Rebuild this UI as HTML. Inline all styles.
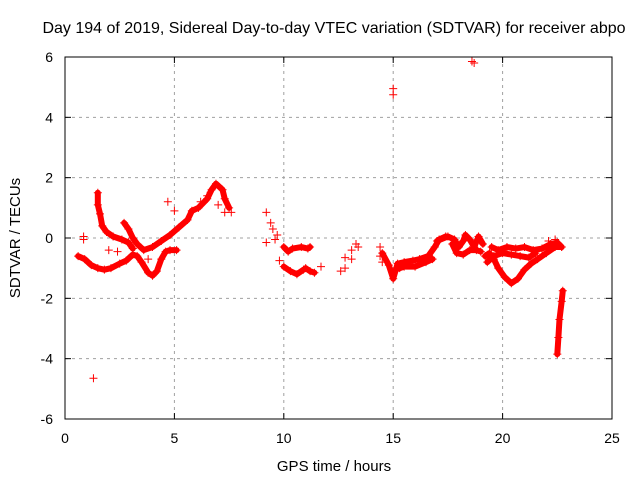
<!DOCTYPE html>
<html><head><meta charset="utf-8"><style>
body{margin:0;background:#fff;}
svg{display:block;font-family:"Liberation Sans",sans-serif;}
</style></head><body>
<svg id="chart" width="640" height="480">
<text x="334" y="33" font-size="16" text-anchor="middle">Day 194 of 2019, Sidereal Day-to-day VTEC variation (SDTVAR) for receiver abpo</text>
<text x="334" y="471" font-size="15" text-anchor="middle">GPS time / hours</text>
<text x="20" y="238" font-size="15" text-anchor="middle" transform="rotate(-90 20 238)">SDTVAR / TECUs</text>
<g id="grid"></g><g id="axes"></g><g id="marks"></g>
</svg>
<script>
const xTicks=[0,5,10,15,20,25];
const yTicks=[-6,-4,-2,0,2,4,6];
const tracks=[
[[0.6,-0.6],[0.9,-0.7],[1.2,-0.9],[1.5,-1.0],[1.8,-1.05],[2.1,-1.0],[2.5,-0.85],[2.8,-0.75],[3.1,-0.55],[3.3,-0.6],[3.5,-0.8],[3.8,-1.15],[4.0,-1.25],[4.2,-1.1],[4.4,-0.7],[4.6,-0.45],[4.8,-0.4],[5.1,-0.4]],
[[1.5,1.5],[1.5,1.1],[1.6,0.8],[1.7,0.4],[1.9,0.2],[2.2,0.05],[2.6,-0.05],[2.9,-0.15],[3.1,-0.35]],
[[2.7,0.5],[2.9,0.3],[3.1,0.0],[3.3,-0.2],[3.6,-0.4],[4.0,-0.3],[4.4,-0.1],[4.8,0.1],[5.2,0.35],[5.6,0.6],[5.8,0.9]],
[[5.8,0.9],[6.1,1.0],[6.5,1.3],[6.7,1.6],[6.9,1.8],[7.2,1.6],[7.3,1.3],[7.5,1.0]],
[[10.0,-0.3],[10.2,-0.45],[10.4,-0.35],[10.8,-0.3],[11.1,-0.35],[11.2,-0.3]],
[[10.0,-0.95],[10.3,-1.1],[10.6,-1.2],[10.9,-1.05]],
[[11.0,-1.0],[11.2,-1.1],[11.4,-1.15]],
[[14.5,-0.5],[14.8,-0.9],[15.0,-1.35],[15.1,-1.1],[15.2,-0.85],[15.5,-0.8],[15.9,-0.75],[16.2,-0.7],[16.6,-0.6],[16.9,-0.3],[17.1,-0.05],[17.4,0.05]],
[[15.3,-1.0],[15.5,-0.95],[16.0,-0.95],[16.5,-0.8],[16.8,-0.7]],
[[17.0,-0.1],[17.5,0.05],[17.8,-0.05],[18.0,-0.3],[18.2,-0.1],[18.3,0.1],[18.5,-0.05],[18.7,-0.3],[18.9,0.05],[19.1,-0.2]],
[[17.7,-0.2],[17.9,-0.5],[18.2,-0.55],[18.5,-0.4],[18.8,-0.4],[19.0,-0.45]],
[[19.2,-0.6],[19.4,-0.5],[19.6,-0.7],[19.8,-1.0],[20.1,-1.3],[20.4,-1.5],[20.7,-1.35],[21.0,-1.05],[21.3,-0.85],[21.6,-0.7],[22.0,-0.5],[22.4,-0.3],[22.7,-0.3]],
[[19.5,-0.3],[19.8,-0.4],[20.2,-0.3],[20.6,-0.35],[21.0,-0.3],[21.4,-0.4],[21.8,-0.35],[22.2,-0.2],[22.5,-0.15],[22.7,-0.3]],
[[19.3,-0.8],[19.6,-0.6],[20.0,-0.5],[20.4,-0.55],[20.8,-0.6],[21.2,-0.65],[21.5,-0.5]],
[[22.5,-3.85],[22.55,-3.3],[22.6,-2.7],[22.7,-2.1],[22.75,-1.75]]
];
const scatter=[[6.2,1.2],[6.5,1.4],[7.0,1.1],[7.3,0.85],[7.6,0.85],[4.7,1.2],[5.0,0.9],[1.3,-4.65],[0.85,0.05],[0.85,-0.05],
[9.2,0.85],[9.2,-0.15],[9.4,0.5],[9.5,0.3],[9.6,-0.05],[9.8,-0.75],[9.7,0.1],[11.7,-0.95],[12.6,-1.1],[12.8,-1.0],[12.8,-0.65],[13.1,-0.7],[13.1,-0.4],[13.3,-0.2],[13.4,-0.3],
[14.4,-0.3],[14.4,-0.6],[14.5,-0.8],[15.0,4.95],[15.0,4.75],[18.6,5.85],[18.7,5.8],[22.4,-0.05],[22.1,-0.1],[2.0,-0.4],[2.4,-0.45],[3.8,-0.7]];
const X0=65,X1=612,Y0=419,Y1=57;
const sx=v=>X0+(v-0)/(25-0)*(X1-X0);
const sy=v=>Y0-(v+6)/12*(Y0-Y1);
const NS="http://www.w3.org/2000/svg";
function mk(tag,attrs,parent){const e=document.createElementNS(NS,tag);for(const k in attrs)e.setAttribute(k,attrs[k]);parent.appendChild(e);return e;}
const grid=document.getElementById('grid'),axes=document.getElementById('axes'),marks=document.getElementById('marks');
const frame=mk('rect',{x:X0,y:Y1,width:X1-X0,height:Y0-Y1,fill:'none',stroke:'#000','stroke-width':1},axes);


xTicks.forEach(t=>{const x=sx(t);
 if(t>0&&t<25){const g=mk('line',{x1:x,x2:x,y1:Y1,y2:Y0,stroke:'#a0a0a0','stroke-dasharray':'3,4'},grid);}
 mk('line',{x1:x,x2:x,y1:Y0,y2:Y0-6,stroke:'#000'},axes);mk('line',{x1:x,x2:x,y1:Y1,y2:Y1+6,stroke:'#000'},axes);
 const l=mk('text',{x:x,y:Y0+24,'font-size':14,'text-anchor':'middle'},axes);l.textContent=t;
 
 });
yTicks.forEach(t=>{const y=sy(t);
 if(t>-6&&t<6){const g=mk('line',{x1:X0,x2:X1,y1:y,y2:y,stroke:'#a0a0a0','stroke-dasharray':'3,4'},grid);}
 mk('line',{x1:X0,x2:X0+6,y1:y,y2:y,stroke:'#000'},axes);mk('line',{x1:X1,x2:X1-6,y1:y,y2:y,stroke:'#000'},axes);
 const l=mk('text',{x:X0-12,y:y+5,'font-size':14,'text-anchor':'end'},axes);l.textContent=t;
 
 });
function plus(x,y,name){const p=mk('path',{d:`M${x-4},${y}h8M${x},${y-4}v8`,stroke:'#ff0000','stroke-width':1},marks);
 
 }
tracks.forEach(tr=>{
 const pl=mk('polyline',{points:tr.map(p=>sx(p[0])+','+sy(p[1])).join(' '),fill:'none',stroke:'#ff0000','stroke-width':6,'stroke-linejoin':'round','stroke-linecap':'round'},marks);
 
 
 tr.forEach(p=>plus(sx(p[0]),sy(p[1]),'data-point'));});
scatter.forEach(p=>plus(sx(p[0]),sy(p[1]),'data-point'));
</script>
</body></html>
